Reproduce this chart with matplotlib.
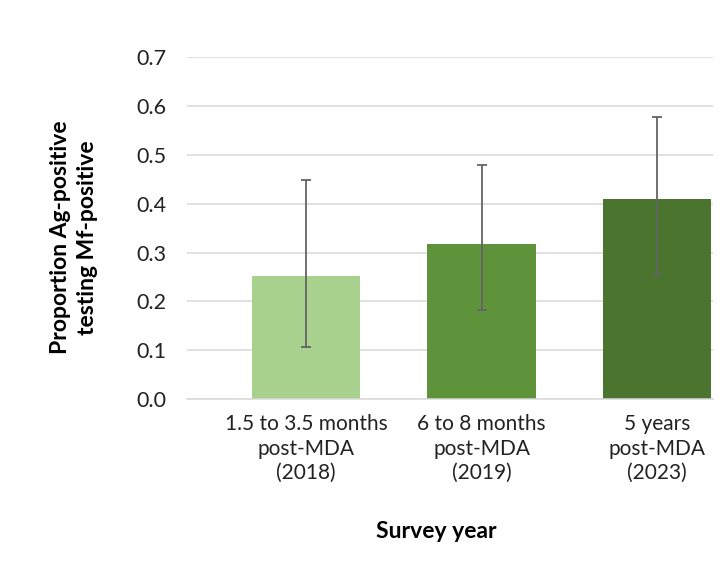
import matplotlib
matplotlib.use("Agg")
import matplotlib.pyplot as plt
import numpy as np

categories = ["1.5 to 3.5 months\npost-MDA\n(2018)",
              "6 to 8 months\npost-MDA\n(2019)",
              "5 years\npost-MDA\n(2023)"]
values = [0.251, 0.317, 0.409]
ci_low = [0.107, 0.182, 0.255]
ci_high = [0.449, 0.480, 0.578]
colors = ["#A9D18E", "#5E933B", "#4B752E"]
yticks = [0.0, 0.1, 0.2, 0.3, 0.4, 0.5, 0.6, 0.7]

plt.rcParams['font.family'] = ['Lato', 'DejaVu Sans']

fig = plt.figure(figsize=(7.27, 5.64), dpi=100)
ax = fig.add_axes([187/727, 1-399/564, (713-187)/727, (399-57.3)/564])

x = np.arange(len(categories))
vals = np.array(values)
yerr = np.array([vals - np.array(ci_low), np.array(ci_high) - vals])
ax.bar(x, vals, width=0.618, color=colors, zorder=2)
ax.errorbar(x, vals, yerr=yerr, fmt='none', ecolor='#646464', elinewidth=1.3,
            capsize=3.8, capthick=1.3, zorder=3)

ax.set_xlim(-0.678, 2.319)
ax.set_ylim(0, 0.7)
ax.set_yticks(yticks)
ax.set_yticklabels([f"{t:.1f}" for t in yticks], fontsize=15.5, color='#222222')
ax.yaxis.grid(True, color='#D9D9D9', linewidth=1.1, zorder=0)
ax.set_axisbelow(True)
ax.tick_params(axis='both', length=0)
ax.tick_params(axis='y', pad=15)
ax.tick_params(axis='x', pad=11)
ax.set_xticks(x)
ax.set_xticklabels(categories, fontsize=15, linespacing=1.27, color='#222222')
for s in ['top', 'right', 'left']:
    ax.spines[s].set_visible(False)
ax.spines['bottom'].set_color('#D9D9D9')
ax.spines['bottom'].set_linewidth(1.1)

fig.text(74/727, 1-237.5/564, "Proportion Ag-positive\ntesting Mf-positive",
         rotation=90, ha='center', va='center', fontsize=16.5, fontweight='bold',
         linespacing=1.3)
fig.text(436/727, 1-532/564, "Survey year", ha='center', va='center',
         fontsize=16.5, fontweight='bold')

fig.savefig("out.png", dpi=100)
